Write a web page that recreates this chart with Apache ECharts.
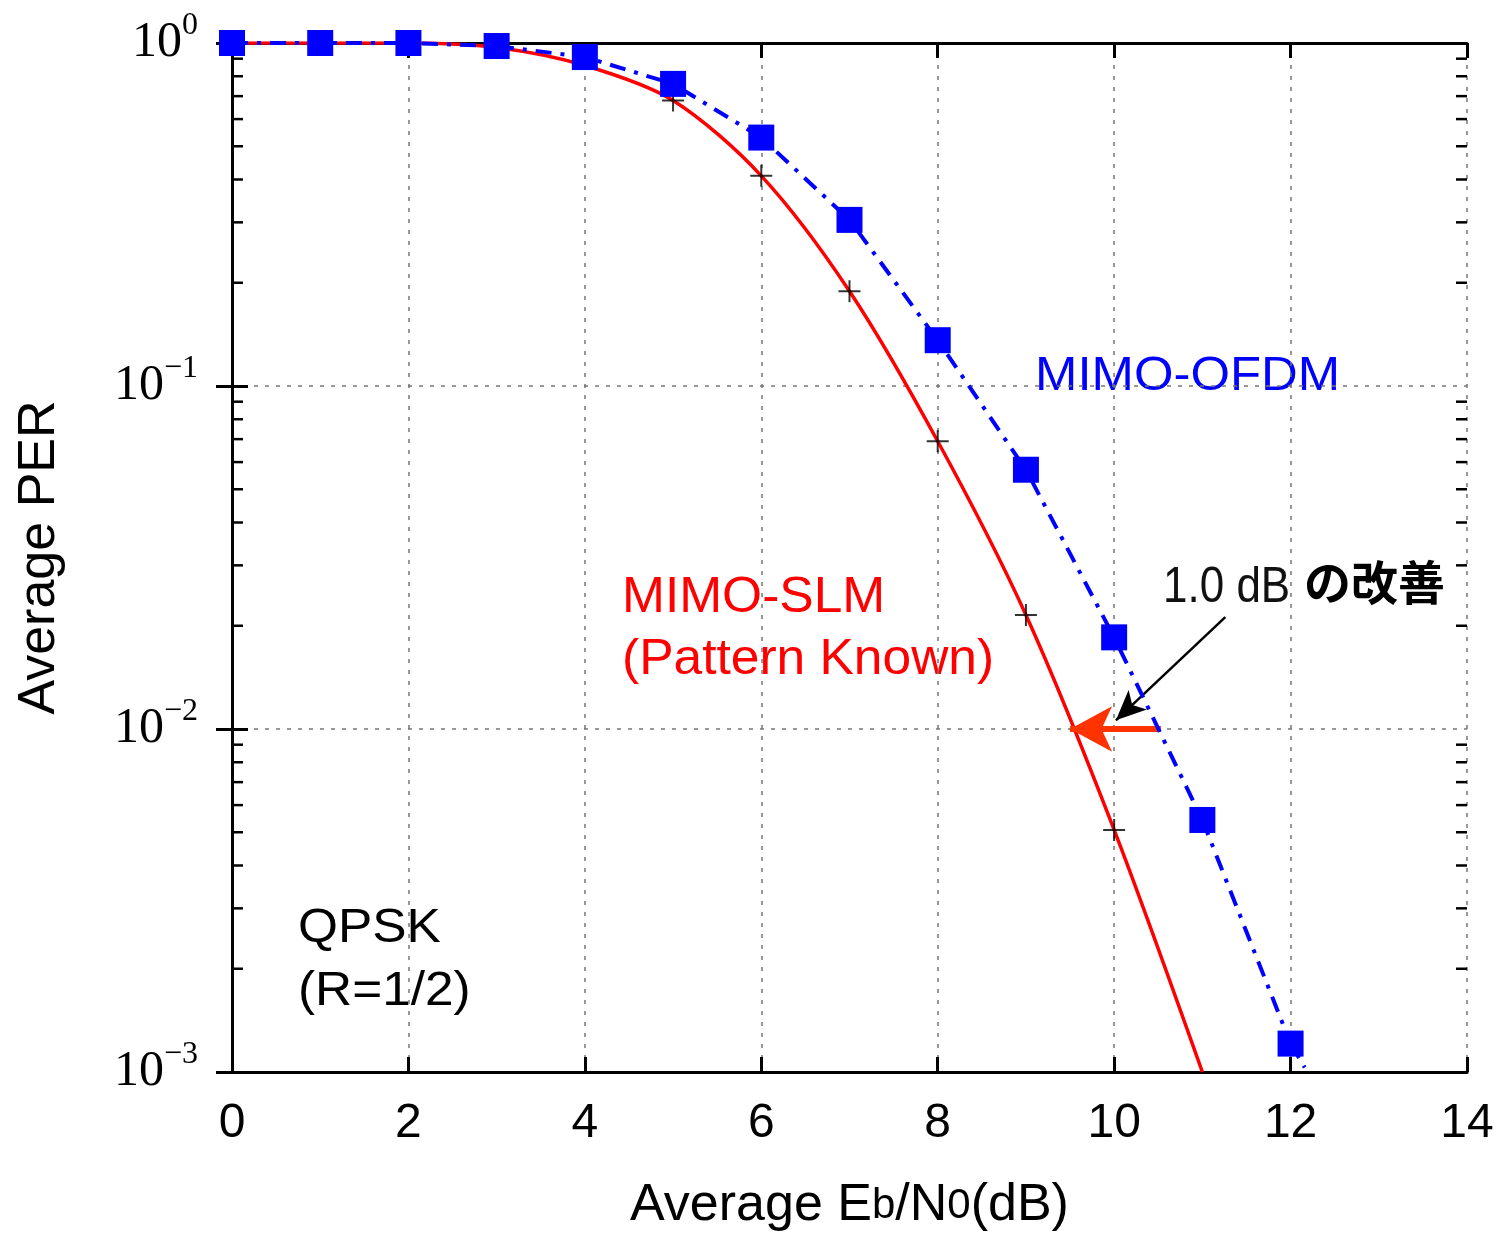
<!DOCTYPE html>
<html>
<head>
    <meta charset="utf-8">
    <title>Average PER</title>
    <script src="https://cdn.jsdelivr.net/npm/echarts@6/dist/echarts.min.js"></script>
</head>
<body style="margin:0;background:#fff">
    <div id="main" style="width:1500px;height:1234px;"></div>
    <script type="text/javascript">
        var myChart = echarts.init(document.getElementById('main'));

        // Eb/N0 (dB) points
        var ofdmX = [0, 1, 2, 3, 4, 5, 6, 7, 8, 9, 10, 11, 12];
        var ofdmPER = [1.0, 1.0, 1.0, 0.98, 0.91, 0.76, 0.53, 0.305, 0.136, 0.057, 0.0185, 0.00543, 0.00121];
        // the dash-dot line runs a little past the last square
        var ofdmTail = [12.16, 0.00103];

        var slmX = [0, 1, 2, 3, 4, 5, 6, 7, 8, 9, 10, 11];
        var slmPER = [1.0, 1.0, 1.0, 0.97, 0.86, 0.68, 0.41, 0.189, 0.069, 0.0215, 0.00508, 0.001];
        // black "+" markers on the red curve
        var plusX = [5, 6, 7, 8, 9, 10];

        var minorY = [];
        for (var e = -3; e < 0; e++) {
            for (var m = 2; m <= 9; m++) minorY.push(m * Math.pow(10, e));
        }

        var ofdmData = ofdmX.map(function (x, i) { return [x, ofdmPER[i]]; });
        ofdmData.push({ value: ofdmTail, symbol: 'none' });
        var slmData = slmX.map(function (x, i) { return [x, slmPER[i]]; });
        var plusData = plusX.map(function (x) { return [x, slmPER[slmX.indexOf(x)]]; });

        var sans = '"Liberation Sans", Arial, sans-serif';
        var serif = '"Liberation Serif", "Times New Roman", serif';
        var cjk = '"Noto Sans CJK JP", sans-serif';

        function expLabel(v) {
            var p = Math.round(Math.log10(v));
            var s = p < 0 ? '\u2212' + (-p) : '' + p;
            return '{b|10}{s|' + s + '}';
        }

        // annotation text, stretched a little sideways like the original
        function note(txt, x, y, font, color, sx) {
            return {
                type: 'text', x: x, y: y, scaleX: sx,
                style: { text: txt, fill: color, font: font, align: 'left', verticalAlign: 'top' }
            };
        }

        var option = {
            animation: false,
            grid: { left: 232, right: 33, top: 43, bottom: 162, outerBoundsMode: 'none', containLabel: false },
            xAxis: [
                {
                    type: 'value', min: 0, max: 14, interval: 2,
                    axisLine: { lineStyle: { color: '#000', width: 3 } },
                    axisTick: { inside: true, length: 15, lineStyle: { color: '#000', width: 3 } },
                    axisLabel: { color: '#000', fontSize: 48, fontFamily: sans, margin: 28 },
                    splitLine: { show: true, lineStyle: { color: '#777', width: 1.5, type: [4, 7] } },
                    name: '{n|Average E}{m|b}{n|/N}{m|0}{n|(dB)}',
                    nameLocation: 'middle', nameGap: 108,
                    nameTextStyle: {
                        rich: {
                            n: { fontSize: 52, fontFamily: sans, color: '#000' },
                            m: { fontSize: 42, fontFamily: sans, color: '#000' }
                        }
                    }
                },
                {
                    type: 'value', min: 0, max: 14, interval: 2, position: 'top',
                    axisLine: { lineStyle: { color: '#000', width: 3 } },
                    axisTick: { inside: true, length: 15, lineStyle: { color: '#000', width: 3 } },
                    axisLabel: { show: false },
                    splitLine: { show: false }
                }
            ],
            yAxis: [
                {
                    type: 'log', logBase: 10, min: 0.001, max: 1,
                    axisLine: { lineStyle: { color: '#000', width: 3 } },
                    axisTick: { inside: true, length: 16, lineStyle: { color: '#000', width: 3 } },
                    axisLabel: {
                        margin: 34,
                        formatter: expLabel,
                        rich: {
                            b: { fontSize: 50, fontFamily: serif, color: '#000', verticalAlign: 'bottom', lineHeight: 50 },
                            s: { fontSize: 32, fontFamily: serif, color: '#000', verticalAlign: 'bottom', lineHeight: 32, padding: [0, 0, 26, 0] }
                        }
                    },
                    splitLine: { show: true, lineStyle: { color: '#777', width: 1.5, type: [4, 7] } },
                    name: 'Average PER',
                    nameLocation: 'middle', nameGap: 166, nameRotate: 90,
                    nameTextStyle: { fontSize: 52, fontFamily: sans, color: '#000' }
                },
                {
                    type: 'log', logBase: 10, min: 0.001, max: 1, position: 'right',
                    axisLine: { lineStyle: { color: '#000', width: 3 } },
                    axisTick: { inside: true, length: 16, lineStyle: { color: '#000', width: 3 } },
                    axisLabel: { show: false },
                    splitLine: { show: false }
                }
            ],
            series: [
                {
                    // minor decade ticks on left and right sides
                    type: 'custom',
                    silent: true,
                    data: minorY,
                    renderItem: function (params, api) {
                        var cs = params.coordSys;
                        var y = api.coord([0, api.value(0)])[1];
                        var st = { stroke: '#000', lineWidth: 2.5 };
                        return {
                            type: 'group',
                            children: [
                                { type: 'line', shape: { x1: cs.x, y1: y, x2: cs.x + 11, y2: y }, style: st },
                                { type: 'line', shape: { x1: cs.x + cs.width - 11, y1: y, x2: cs.x + cs.width, y2: y }, style: st }
                            ]
                        };
                    },
                    encode: { y: 0 }
                },
                {
                    name: 'MIMO-SLM',
                    type: 'line',
                    data: slmData,
                    smooth: 0.3,
                    showSymbol: false,
                    symbol: 'none',
                    lineStyle: { color: '#ff0000', width: 3.5 },
                    z: 3,
                    markLine: {
                        silent: true,
                        label: { show: false },
                        data: [
                            [
                                { coord: [10.53, 0.01], symbol: 'none', lineStyle: { color: '#ff3300', width: 6, type: 'solid' } },
                                { coord: [9.5, 0.01], symbol: 'arrow', symbolSize: [34, 42] }
                            ],
                            [
                                { coord: [11.26, 0.0212], symbol: 'none', lineStyle: { color: '#000', width: 2.5, type: 'solid' } },
                                { coord: [10.02, 0.0106], symbol: 'arrow', symbolSize: [20, 30] }
                            ]
                        ]
                    }
                },
                {
                    name: 'plus',
                    type: 'scatter',
                    data: plusData,
                    symbol: 'path://M0,10L20,10M10,0L10,20',
                    symbolSize: 22,
                    itemStyle: { color: 'rgba(0,0,0,0)', borderColor: '#000', borderWidth: 2 },
                    z: 4
                },
                {
                    name: 'MIMO-OFDM',
                    type: 'line',
                    data: ofdmData,
                    symbol: 'rect',
                    symbolSize: 26,
                    itemStyle: { color: '#0000ff' },
                    lineStyle: { color: '#0000ff', width: 4, type: [16, 9, 4, 9] },
                    z: 5
                }
            ],
            graphic: [
                note('MIMO-OFDM', 1035, 353, '48px ' + sans, '#0000ff', 1.06),
                note('MIMO-SLM', 622, 573, '50px ' + sans, '#ff0000', 1.03),
                note('(Pattern Known)', 622, 635, '50px ' + sans, '#ff0000', 1.03),
                note('QPSK', 298, 905, '48px ' + sans, '#000', 1.07),
                note('(R=1/2)', 298, 968, '48px ' + sans, '#000', 1.07),
                note('1.0 dB', 1163, 563, '50px ' + sans, '#111', 0.88),
                note('の改善', 1304, 559, 'bold 47px ' + cjk, '#000', 1)
            ]
        };

        myChart.setOption(option);
    </script>
</body>
</html>
